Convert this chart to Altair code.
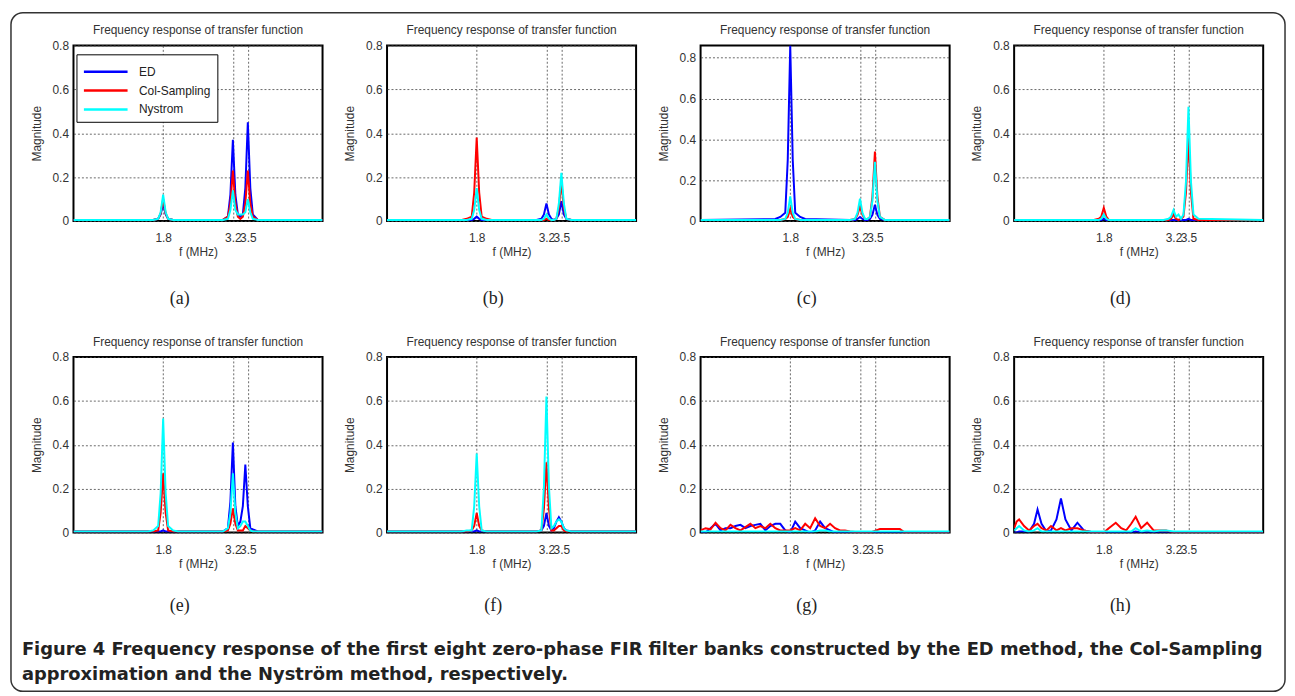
import altair as alt
import pandas as pd

SERIES = ["ED", "Col-Sampling", "Nystrom"]
COLORS = ["#0000ff", "#ff0000", "#00ffff"]
X_TICKS = [1.8, 3.2, 3.5]
Y_TICKS = [0, 0.2, 0.4, 0.6, 0.8]
PANEL_TITLE = "Frequency response of transfer function"
LABELS = ["(a)", "(b)", "(c)", "(d)", "(e)", "(f)", "(g)", "(h)"]
CAPTION = [
    "Figure 4 Frequency response of the first eight zero-phase FIR filter banks constructed by the ED method, the Col-Sampling",
    "approximation and the Nyström method, respectively.",
]

# frequency grid (MHz) shared by panels a-f
F_PEAK = [0, 1.5, 1.6, 1.7, 1.75, 1.8, 1.85, 1.9, 2.0, 2.1, 3.0, 3.1, 3.15, 3.2,
          3.25, 3.3, 3.35, 3.4, 3.45, 3.5, 3.55, 3.6, 3.7, 5.0]

A_ED = [.005, .005, .005, .01, .03, .08, .03, .01, .005, .005, .005, .02, .12, .37, .12, .03, .02, .03, .15, .45, .15, .03, .005, .005]
A_CS = [.005, .005, .005, .01, .035, .10, .035, .01, .005, .005, .005, .02, .08, .23, .08, .02, .01, .02, .08, .23, .08, .02, .005, .005]
A_NY = [.005, .005, .005, .01, .04, .12, .04, .01, .005, .005, .005, .01, .05, .14, .05, .03, .03, .03, .04, .10, .04, .01, .005, .005]

B_ED = [.005, .005, .005, .005, .01, .02, .01, .005, .005, .005, .005, .01, .03, .08, .03, .01, .005, .01, .03, .09, .03, .01, .005, .005]
B_CS = [.005, .005, .01, .02, .13, .38, .13, .02, .01, .005, .005, .005, .005, .01, .005, .005, .005, .01, .06, .18, .06, .01, .005, .005]
B_NY = [.005, .005, .005, .01, .05, .15, .05, .01, .005, .005, .005, .005, .01, .03, .01, .005, .005, .01, .08, .22, .08, .01, .005, .005]

C_ED = [.005, .01, .02, .04, .30, .86, .30, .04, .02, .01, .005, .005, .01, .02, .01, .005, .005, .01, .03, .08, .03, .01, .005, .005]
C_CS = [.005, .005, .005, .01, .02, .06, .02, .01, .005, .005, .005, .01, .03, .07, .03, .01, .01, .02, .12, .34, .12, .02, .005, .005]
C_NY = [.005, .005, .005, .01, .04, .12, .04, .01, .005, .005, .005, .01, .04, .11, .04, .01, .01, .02, .10, .29, .10, .02, .005, .005]

D_ED = [.005, .005, .005, .005, .005, .01, .005, .005, .005, .005, .005, .005, .005, .005, .005, .005, .005, .005, .005, .01, .005, .005, .005, .005]
D_CS = [.005, .005, .005, .01, .02, .06, .02, .005, .005, .005, .005, .005, .01, .03, .01, .005, .01, .02, .13, .38, .13, .01, .005, .005]
D_NY = [.005, .005, .005, .005, .01, .03, .01, .005, .005, .005, .005, .01, .02, .05, .02, .03, .01, .03, .18, .52, .18, .03, .01, .005]

E_ED = [.005, .005, .005, .005, .005, .01, .005, .005, .005, .005, .005, .02, .14, .41, .12, .03, .05, .12, .31, .12, .02, .015, .005, .005]
E_CS = [.005, .005, .005, .01, .09, .27, .09, .01, .005, .005, .005, .01, .04, .11, .04, .01, .01, .01, .03, .02, .01, .005, .005, .005]
E_NY = [.005, .005, .01, .03, .18, .52, .18, .03, .01, .005, .005, .02, .09, .27, .09, .02, .03, .05, .05, .03, .01, .005, .005, .005]

F_ED = [.005, .005, .005, .005, .005, .01, .005, .005, .005, .005, .005, .01, .03, .09, .03, .01, .02, .05, .07, .05, .02, .01, .005, .005]
F_CS = [.005, .005, .005, .01, .03, .09, .03, .01, .005, .005, .005, .01, .11, .32, .11, .01, .01, .02, .03, .03, .01, .005, .005, .005]
F_NY = [.005, .005, .01, .01, .12, .36, .12, .01, .005, .005, .005, .01, .21, .62, .21, .02, .03, .05, .06, .05, .02, .01, .005, .005]

# panel g
F_G = [0, 0.1, 0.2, 0.3, 0.4, 0.5, 0.6, 0.7, 0.8, 0.9, 1.0, 1.1, 1.2, 1.3, 1.4, 1.5, 1.6, 1.7, 1.8,
       1.9, 2.0, 2.1, 2.2, 2.3, 2.4, 2.5, 2.6, 2.7, 2.8, 2.9, 3.0, 3.2, 3.4, 3.6, 3.8, 4.0, 4.1, 5.0]
G_ED = [.0, .0, .02, .04, .01, .02, .02, .03, .035, .02, .03, .035, .04, .01, .03, .04, .04, .01, .0,
        .05, .02, .01, .0, .01, .05, .02, .01, .0, .0, .0, .0, .0, .0, .0, .0, .0, .0, .0]
G_CS = [.01, .02, .015, .045, .02, .01, .035, .02, .01, .025, .04, .02, .03, .02, .04, .02, .01, .01, .01,
        .02, .01, .04, .02, .065, .03, .02, .04, .02, .01, .01, .005, .0, .0, .016, .016, .016, .0, .0]
G_NY = [.005, .005, .005, .005, .005, .005, .005, .005, .005, .005, .005, .005, .005, .005, .005, .005, .005, .005, .005,
        .005, .005, .005, .005, .005, .01, .01, .005, .005, .005, .005, .005, .005, .005, .005, .005, .005, .005, .005]

# panel h
F_H = [0, 0.05, 0.1, 0.2, 0.3, 0.4, 0.47, 0.55, 0.65, 0.74, 0.85, 0.94, 1.03, 1.15, 1.27, 1.4, 1.6,
       1.8, 1.9, 2.04, 2.15, 2.25, 2.35, 2.44, 2.55, 2.67, 2.8, 2.95, 3.05, 3.2, 5.0]
H_ED = [.0, .0, .005, .005, .005, .04, .105, .04, .005, .01, .06, .155, .06, .01, .045, .01, .0,
        .0, .0, .0, .0, .0, .0, .005, .0, .0, .0, .0, .0, .0, .0]
H_CS = [.02, .05, .06, .03, .01, .03, .04, .02, .01, .03, .01, .02, .01, .02, .02, .01, .0,
        .0, .02, .045, .02, .01, .04, .072, .02, .045, .01, .01, .01, .0, .0]
H_NY = [.01, .02, .03, .01, .005, .01, .02, .005, .005, .005, .005, .005, .005, .005, .005, .005, .005,
        .005, .005, .005, .005, .005, .005, .02, .005, .01, .005, .01, .01, .005, .005]

PANELS = [
    (F_PEAK, A_ED, A_CS, A_NY, 0.8),
    (F_PEAK, B_ED, B_CS, B_NY, 0.8),
    (F_PEAK, C_ED, C_CS, C_NY, 0.86),
    (F_PEAK, D_ED, D_CS, D_NY, 0.8),
    (F_PEAK, E_ED, E_CS, E_NY, 0.8),
    (F_PEAK, F_ED, F_CS, F_NY, 0.8),
    (F_G, G_ED, G_CS, G_NY, 0.8),
    (F_H, H_ED, H_CS, H_NY, 0.8),
]

W, H = 251, 177
AX_FONT = "Liberation Sans"
TXT = "#333333"


def text_layer(txt, x, y, **kw):
    return alt.Chart(pd.DataFrame({"t": [txt]})).mark_text(**kw).encode(
        x=alt.value(x), y=alt.value(y), text="t:N"
    )


def make_panel(i):
    freq, ed, cs, ny, ymax = PANELS[i]
    rows = []
    for name, vals in zip(SERIES, (ed, cs, ny)):
        for k, (f, m) in enumerate(zip(freq, vals)):
            rows.append({"f": f, "m": m, "method": name, "k": k})
    df = pd.DataFrame(rows)

    if i == 0:
        leg = alt.Legend(orient="none", legendX=3, legendY=9, title=None,
                         symbolType="M-2.2,0H2.2", symbolSize=400, symbolStrokeWidth=2.5,
                         symbolOffset=12, labelOffset=22,
                         labelFont=AX_FONT, labelFontSize=12, labelColor="#222",
                         fillColor="white", strokeColor="black", padding=6,
                         rowPadding=1, labelLimit=200)
    else:
        leg = None

    lines = alt.Chart(df).mark_line(strokeWidth=2, clip=True).encode(
        x=alt.X("f:Q", scale=alt.Scale(domain=[0, 5], nice=False, zero=False),
                axis=alt.Axis(values=X_TICKS, title="f (MHz)", labelOverlap=False,
                              format=".1f", grid=True, ticks=False, labelPadding=12,
                              titlePadding=3)),
        y=alt.Y("m:Q", scale=alt.Scale(domain=[0, ymax], nice=False),
                axis=alt.Axis(values=Y_TICKS, title="Magnitude", format=".1~f",
                              grid=True, ticks=False, labelPadding=5, titlePadding=9)),
        color=alt.Color("method:N", scale=alt.Scale(domain=SERIES, range=COLORS),
                        legend=leg),
        order=alt.Order("k:Q"),
    )

    title = text_layer(PANEL_TITLE, W / 2, -15, font=AX_FONT, fontSize=12, color=TXT,
                       align="center", baseline="middle")
    lab_y = 256 if i < 4 else 251
    lab = text_layer(LABELS[i], 107, lab_y, font="Liberation Serif", fontSize=18,
                     color="#222", align="center", baseline="middle")

    layers = [lines, title, lab]
    if i == 0:
        frame = alt.Chart(pd.DataFrame({"a": [0]})).mark_rect(
            fill="white", fillOpacity=0, stroke="#333333", strokeWidth=1.5, cornerRadius=12
        ).encode(x=alt.value(-63), x2=alt.value(1221), y=alt.value(-33), y2=alt.value(651))
        cap1 = text_layer(CAPTION[0], -52, 609, font="DejaVu Sans", fontWeight="bold",
                          fontSize=18, color="#222", align="left", baseline="middle")
        cap2 = text_layer(CAPTION[1], -52, 635, font="DejaVu Sans", fontWeight="bold",
                          fontSize=18, color="#222", align="left", baseline="middle")
        layers = [frame] + layers + [cap1, cap2]

    return alt.layer(*layers).properties(width=W, height=H)


chart = alt.concat(
    *[make_panel(i) for i in range(8)],
    columns=4, spacing={"row": 137, "column": 65}, bounds="flush",
).resolve_legend(color="independent").properties(
    padding={"left": 1, "top": 0, "right": 0, "bottom": 0}, background="white"
).configure_view(
    stroke="black", strokeWidth=2
).configure_axis(
    labelFont=AX_FONT, labelFontSize=12, labelColor=TXT,
    titleFont=AX_FONT, titleFontSize=12, titleFontWeight="normal", titleColor=TXT,
    gridColor="#444444", gridDash=[2, 2], gridWidth=1, gridOpacity=0.8,
    domain=False,
)

chart.save("out.html", embed_options={"renderer": "svg", "actions": False})
